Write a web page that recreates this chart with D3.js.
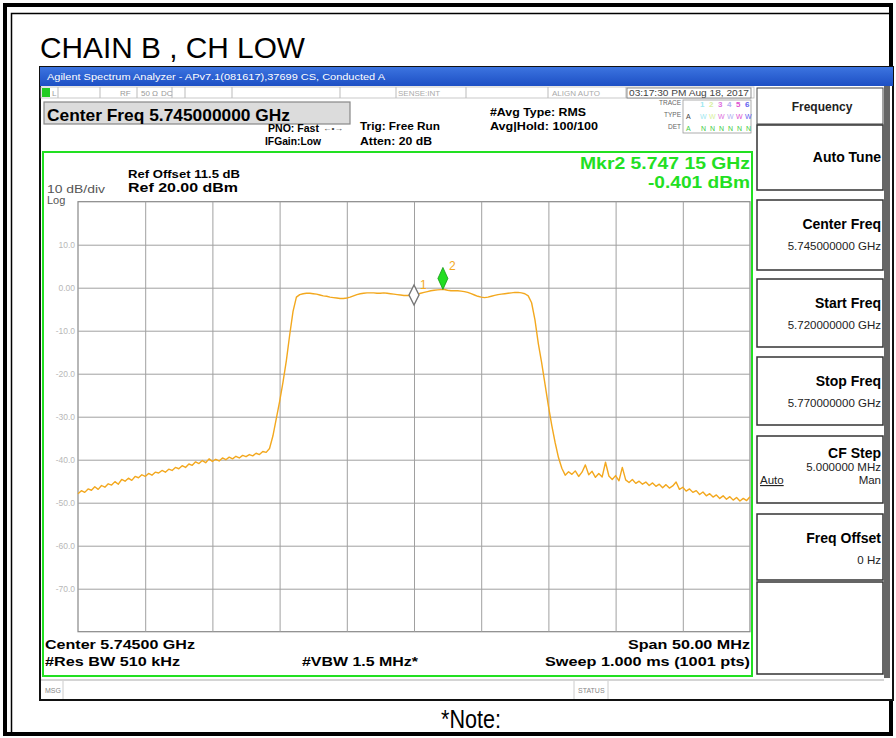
<!DOCTYPE html>
<html><head><meta charset="utf-8">
<script src="https://cdn.jsdelivr.net/npm/d3@7/dist/d3.min.js"></script>
<style>body{margin:0;background:#fff}svg{display:block}</style>
</head><body>
<svg id="c" width="896" height="738"></svg>
<script>
// ---------------- DATA ----------------
const sweepStartMHz = 5720;
const sweepStopMHz = 5770;
// trace levels (dBm), evenly spaced sweep points from start to stop
const traceLevels = [
 -47.9,-47.2,-47.6,-46.8,-47.1,-46.3,-46.9,-46.0,-46.4,-45.6,
 -45.9,-45.1,-45.7,-44.6,-45.0,-44.3,-44.8,-43.9,-44.2,-43.5,
 -43.9,-43.2,-43.6,-42.9,-43.1,-42.5,-42.9,-42.2,-42.5,-41.8,
 -42.1,-41.4,-41.8,-41.0,-41.3,-40.5,-40.9,-40.2,-40.7,-39.8,
 -40.4,-39.9,-40.3,-39.6,-40.0,-39.4,-39.8,-39.2,-39.6,-39.0,
 -39.3,-38.8,-39.1,-38.5,-38.8,-38.1,-38.3,-37.4,-34.5,-30.5,
 -26.5,-22.0,-17.0,-11.0,-5.5,-2.2,-1.6,-1.4,-1.3,-1.3,
 -1.4,-1.5,-1.7,-1.9,-2.0,-2.2,-2.3,-2.4,-2.5,-2.5,
 -2.4,-2.2,-1.9,-1.6,-1.4,-1.3,-1.2,-1.2,-1.2,-1.3,
 -1.3,-1.2,-1.3,-1.4,-1.5,-1.6,-1.7,-1.8,-1.8,-1.8,
 -1.7,-1.5,-1.3,-1.1,-0.9,-0.7,-0.6,-0.5,-0.45,-0.42,
 -0.6,-0.7,-0.7,-0.7,-0.8,-0.9,-1.1,-1.4,-1.7,-2.0,
 -2.2,-2.3,-2.2,-2.0,-1.8,-1.6,-1.5,-1.4,-1.3,-1.2,
 -1.1,-1.1,-1.2,-1.4,-1.9,-3.5,-7.5,-13.0,-17.5,-22.5,
 -27.5,-32.0,-36.0,-39.5,-42.0,-43.6,-42.8,-43.4,-42.6,-43.9,
 -42.9,-41.2,-43.5,-42.7,-44.1,-43.2,-44.0,-40.6,-43.8,-44.6,
 -43.7,-44.9,-41.8,-44.7,-45.3,-44.6,-45.5,-45.0,-45.7,-45.2,
 -46.0,-45.4,-46.2,-45.7,-46.5,-45.8,-46.6,-46.1,-45.2,-46.9,
 -46.4,-47.3,-46.8,-47.6,-47.2,-48.1,-47.5,-48.4,-47.9,-48.7,
 -48.2,-49.0,-48.4,-49.2,-48.6,-49.4,-48.8,-49.6,-49.0,-49.5,
 -48.6
];
const refLevel = 20;
const bottomLevel = -80;
const yTickValues = [10, 0, -10, -20, -30, -40, -50, -60, -70];
const yTickLabels = ["10.0", "0.00", "-10.0", "-20.0", "-30.0", "-40.0", "-50.0", "-60.0", "-70.0"];
const xGridMHz = [5725, 5730, 5735, 5740, 5745, 5750, 5755, 5760, 5765];
const markerNames = ["1", "2"];
const markerFreqsMHz = [5745.0, 5747.15];
const markerLevels = [-1.7, -0.401];
const softkeyTitles = ["Auto Tune", "Center Freq", "Start Freq", "Stop Freq", "CF Step", "Freq Offset", ""];
const softkeyValues = ["", "5.745000000 GHz", "5.720000000 GHz", "5.770000000 GHz", "5.000000 MHz", "0 Hz", ""];

// ---------------- DRAW ----------------
const svg = d3.select("#c");
const F = "'Liberation Sans', Arial, 'DejaVu Sans', sans-serif";
const FN = "'Liberation Sans Narrow', 'Arial Narrow', 'Liberation Sans', sans-serif";

function txt(x, y, s, o = {}) {
  const t = svg.append("text").attr("x", x).attr("y", y).text(s)
    .attr("font-family", o.family || F)
    .attr("font-size", o.size || 11)
    .attr("font-weight", o.weight || "normal")
    .attr("fill", o.fill || "#000")
    .attr("text-anchor", o.anchor || "start");
  if (o.len) t.attr("textLength", o.len).attr("lengthAdjust", "spacingAndGlyphs");
  return t;
}

// outer frame
svg.append("rect").attr("x", 5).attr("y", 5).attr("width", 886).attr("height", 729)
  .attr("fill", "none").attr("stroke", "#000").attr("stroke-width", 4);
svg.append("path").attr("d", "M11.5,732 V13.5 H889").attr("fill", "none").attr("stroke", "#000").attr("stroke-width", 1.5);

txt(40, 58, "CHAIN B  , CH LOW", {family: FN, size: 30, len: 265});
txt(441, 728, "*Note:", {family: FN, size: 26, len: 60});

// screenshot body
svg.append("rect").attr("x", 40).attr("y", 67).attr("width", 853).attr("height", 633)
  .attr("fill", "#fff").attr("stroke", "#111").attr("stroke-width", 2);

// blue title bar
const grad = svg.append("defs").append("linearGradient").attr("id", "tb").attr("x1", 0).attr("x2", 0).attr("y1", 0).attr("y2", 1);
grad.append("stop").attr("offset", 0).attr("stop-color", "#3c74e0");
grad.append("stop").attr("offset", 1).attr("stop-color", "#1d4fc4");
svg.append("rect").attr("x", 40).attr("y", 67).attr("width", 853).attr("height", 19).attr("fill", "url(#tb)");
txt(47, 80, "Agilent Spectrum Analyzer - APv7.1(081617),37699 CS, Conducted A", {size: 9.5, fill: "#fff", len: 338});

// status row
svg.append("rect").attr("x", 41).attr("y", 87).attr("width", 713).attr("height", 11).attr("fill", "#fff").attr("stroke", "#bbb").attr("stroke-width", 0.8);
svg.append("rect").attr("x", 42).attr("y", 88).attr("width", 8).attr("height", 9).attr("fill", "#2c2");
[58, 100, 137, 172, 185, 232, 340, 396, 466, 548, 626].forEach(x =>
  svg.append("line").attr("x1", x).attr("x2", x).attr("y1", 87).attr("y2", 98).attr("stroke", "#bbb"));
txt(52, 96, "L", {size: 8, fill: "#999"});
txt(120, 96, "RF", {size: 8, fill: "#999"});
txt(141, 96, "50 Ω", {size: 8, fill: "#999"});
txt(161, 96, "DC", {size: 8, fill: "#999"});
txt(398, 96, "SENSE:INT", {size: 8, fill: "#aaa"});
txt(552, 96, "ALIGN AUTO", {size: 8, fill: "#aaa"});
svg.append("rect").attr("x", 627).attr("y", 88).attr("width", 124).attr("height", 10).attr("fill", "#fff").attr("stroke", "#777").attr("stroke-width", 0.8);
txt(629, 96, "03:17:30 PM Aug 18, 2017", {size: 8.5, fill: "#444", len: 120});

// center freq box
svg.append("rect").attr("x", 44).attr("y", 102).attr("width", 306).attr("height", 22).attr("fill", "#dcdcdc").attr("stroke", "#888").attr("stroke-width", 1.2);
txt(47, 121, "Center Freq 5.745000000 GHz", {size: 17, weight: "bold", len: 243});
txt(268, 132, "PNO: Fast", {size: 10, weight: "bold", len: 51});
txt(323, 131, "←•→", {size: 8, fill: "#444", len: 20});
txt(265, 145, "IFGain:Low", {size: 10, weight: "bold", len: 56});
txt(360, 130, "Trig: Free Run", {size: 11, weight: "bold", len: 80});
txt(360, 145, "Atten: 20 dB", {size: 11, weight: "bold", len: 72});
txt(490, 116, "#Avg Type: RMS", {size: 11, weight: "bold", len: 96});
txt(490, 130, "Avg|Hold: 100/100", {size: 11, weight: "bold", len: 108});

// trace table
txt(681, 105, "TRACE", {size: 6.5, fill: "#666", anchor: "end"});
txt(681, 117, "TYPE", {size: 6.5, fill: "#666", anchor: "end"});
txt(681, 129, "DET", {size: 6.5, fill: "#666", anchor: "end"});
svg.append("rect").attr("x", 683).attr("y", 100).attr("width", 68).attr("height", 33).attr("fill", "#fff").attr("stroke", "#999").attr("stroke-width", 0.8);
const tcol = ["#a0e8f0", "#d8f0a0", "#e070e0", "#b0b0f0", "#e050d0", "#6060f0"];
tcol.forEach((c, i) => {
  txt(700 + i * 9, 107, String(i + 1), {size: 8, fill: c, weight: "bold"});
  txt(700 + i * 9, 119, "W", {size: 7, fill: c});
  txt(701 + i * 9, 131, "N", {size: 7, fill: "#44cc44"});
});
txt(686, 119, "A", {size: 7, fill: "#444"});
txt(686, 131, "A", {size: 7, fill: "#44cc44"});

// right softkey panel
svg.append("rect").attr("x", 884).attr("y", 86).attr("width", 6).attr("height", 592).attr("fill", "#666");
svg.append("rect").attr("x", 757).attr("y", 88).attr("width", 126).attr("height", 36).attr("fill", "#fff").attr("stroke", "#444").attr("stroke-width", 1);
txt(822, 111, "Frequency", {size: 12, anchor: "middle", fill: "#222", weight: "bold"});
const boxes = [[125, 190], [200, 270], [279, 347], [357, 425], [436, 503], [514, 580], [582, 674]];
boxes.forEach((b, i) => {
  svg.append("rect").attr("x", 757).attr("y", b[0]).attr("width", 126).attr("height", b[1] - b[0])
    .attr("fill", "#fff").attr("stroke", "#333").attr("stroke-width", 1.5);
  const title = softkeyTitles[i], val = softkeyValues[i];
  if (!title) return;
  if (title === "Auto Tune") {
    txt(881, 162, title, {size: 14, weight: "bold", anchor: "end"});
  } else if (title === "CF Step") {
    txt(881, 458, title, {size: 14, weight: "bold", anchor: "end"});
    txt(881, 471, val, {size: 11.5, anchor: "end", fill: "#222"});
    txt(881, 484, "Man", {size: 11.5, anchor: "end", fill: "#222"});
    txt(760, 484, "Auto", {size: 11.5, fill: "#222"}).attr("text-decoration", "underline");
  } else {
    txt(881, b[0] + 29, title, {size: 14, weight: "bold", anchor: "end"});
    txt(881, b[0] + 50, val, {size: 11.5, anchor: "end", fill: "#222"});
  }
});

// MSG row
svg.append("line").attr("x1", 41).attr("x2", 884).attr("y1", 680).attr("y2", 680).attr("stroke", "#aaa");
[63, 574, 608].forEach(x => svg.append("line").attr("x1", x).attr("x2", x).attr("y1", 681).attr("y2", 699).attr("stroke", "#ccc"));
txt(45, 693, "MSG", {size: 7, fill: "#888"});
txt(578, 693, "STATUS", {size: 7, fill: "#888"});

// green measurement frame
svg.append("rect").attr("x", 43).attr("y", 152).attr("width", 709).attr("height", 524)
  .attr("fill", "none").attr("stroke", "#22e022").attr("stroke-width", 2);

// plot
const L = 78, R = 750, T = 201.7, B = 631.7;
const x = d3.scaleLinear().domain([sweepStartMHz, sweepStopMHz]).range([L, R]);
const y = d3.scaleLinear().domain([bottomLevel, refLevel]).range([B, T]);

svg.append("rect").attr("x", L).attr("y", T).attr("width", R - L).attr("height", B - T)
  .attr("fill", "#fff").attr("stroke", "#888").attr("stroke-width", 1.2);

// grid via axes
const gy = svg.append("g").attr("transform", `translate(${L},0)`)
  .call(d3.axisLeft(y).tickValues(yTickValues).tickSize(-(R - L)).tickFormat(""));
gy.select(".domain").remove();
gy.selectAll("line").attr("stroke", "#a0a0a0").attr("stroke-width", 1);
const gx = svg.append("g").attr("transform", `translate(0,${B})`)
  .call(d3.axisBottom(x).tickValues(xGridMHz).tickSize(-(B - T)).tickFormat(""));
gx.select(".domain").remove();
gx.selectAll("line").attr("stroke", "#a0a0a0").attr("stroke-width", 1);

// y tick labels
const ya = svg.append("g").attr("transform", `translate(${L - 3},0)`)
  .call(d3.axisLeft(y).tickValues(yTickValues).tickSize(0).tickPadding(0)
    .tickFormat((d, i) => yTickLabels[i]));
ya.select(".domain").remove();
ya.selectAll("text").attr("font-family", F).attr("font-size", 8.5).attr("fill", "#b8b8b8");

// header texts in frame
txt(128, 178, "Ref Offset 11.5 dB", {size: 11, weight: "bold", len: 112});
txt(128, 192, "Ref 20.00 dBm", {size: 13.5, weight: "bold", len: 110});
txt(47, 193, "10 dB/div", {size: 11, fill: "#555", len: 58});
txt(47, 204, "Log", {size: 11, fill: "#555"});
txt(750, 169, "Mkr2 5.747 15 GHz", {size: 17, weight: "bold", fill: "#22e022", anchor: "end", len: 170});
txt(750, 188, "-0.401 dBm", {size: 17, weight: "bold", fill: "#22e022", anchor: "end", len: 102});

// bottom texts
txt(45, 649, "Center 5.74500 GHz", {size: 13, weight: "bold", len: 150});
txt(45, 666, "#Res BW 510 kHz", {size: 13, weight: "bold", len: 135});
txt(302, 666, "#VBW 1.5 MHz*", {size: 13, weight: "bold", len: 116});
txt(750, 649, "Span 50.00 MHz", {size: 13, weight: "bold", anchor: "end", len: 122});
txt(750, 666, "Sweep  1.000 ms (1001 pts)", {size: 13, weight: "bold", anchor: "end", len: 205});

// trace
const n = traceLevels.length;
const step = (sweepStopMHz - sweepStartMHz) / (n - 1);
const line = d3.line().x((d, i) => x(sweepStartMHz + i * step)).y(d => y(d));
svg.append("path").datum(traceLevels).attr("d", line)
  .attr("fill", "none").attr("stroke", "#f3a81e").attr("stroke-width", 1.4).attr("stroke-linejoin", "round");

// markers
markerNames.forEach((m, i) => {
  const mx = x(markerFreqsMHz[i]), my = y(markerLevels[i]);
  if (i === 0) {
    svg.append("path").attr("d", `M${mx},${my - 10} L${mx + 5},${my} L${mx},${my + 10} L${mx - 5},${my} Z`)
      .attr("fill", "#fff").attr("stroke", "#777").attr("stroke-width", 1.4);
    txt(mx + 6, my - 6, m, {size: 12, fill: "#f3a81e"});
  } else {
    svg.append("path").attr("d", `M${mx},${my - 22} L${mx + 5},${my - 11} L${mx},${my} L${mx - 5},${my - 11} Z`)
      .attr("fill", "#22dd22").attr("stroke", "#119911").attr("stroke-width", 0.8);
    txt(mx + 6, my - 19, m, {size: 12, fill: "#f3a81e"});
  }
});
</script>
</body></html>
